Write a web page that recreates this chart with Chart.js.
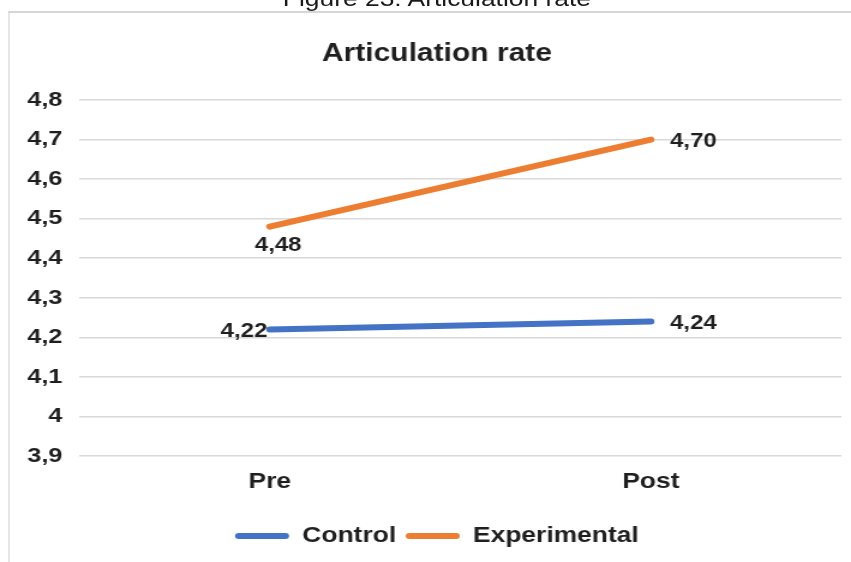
<!DOCTYPE html>
<html>
<head>
<meta charset="utf-8">
<script src="https://cdn.jsdelivr.net/npm/chart.js@4/dist/chart.umd.min.js"></script>
<style>
  html, body { margin: 0; padding: 0; background: #fff; overflow: hidden; }
  /* the original picture is stretched sideways, so the whole figure is drawn narrow and scaled */
  #wrap { position: absolute; left: 0; top: 0; width: 709px; height: 562px; transform: scaleX(1.2003); transform-origin: 0 0; }
  #caption { position: absolute; left: 0; top: -12px; width: 728px; text-align: center; font: 22px/22px "Liberation Sans", Arial, sans-serif; color: #1a1a1a; }
  #frame { position: absolute; left: 6.7px; top: 11px; width: 800px; height: 700px; border-left: 1.5px solid #d6d6d6; border-top: 2px solid #d6d6d6; }
  #mychart { position: absolute; left: 0; top: 0; }
</style>
</head>
<body>
<div id="wrap">
  <div id="caption">Figure 23: Articulation rate</div>
  <div id="frame"></div>
  <canvas id="mychart" width="709" height="562"></canvas>
</div>
<script>
'use strict'

// データ
const categories = ['Pre', 'Post'];
const controlValues = [4.22, 4.24];
const experimentalValues = [4.48, 4.70];
const yTicks = [3.9, 4.0, 4.1, 4.2, 4.3, 4.4, 4.5, 4.6, 4.7, 4.8];

const blue = '#4472C4';
const orange = '#ED7D31';
const textColor = '#1f1f1f';
const fontFamily = '"Liberation Sans", Arial, sans-serif';

// 値ラベルの位置（データセット順、点の順）
const labelPlace = [['left', 'right'], ['below', 'right']];

const comma = (v) => String(Math.round(v * 100) / 100).replace('.', ',');

// 値ラベルを描くプラグイン
const valueLabels = {
  id: 'valueLabels',
  afterLayout(chart) {
    // y軸の目盛りラベルが左で切れないように
    chart.scales.y.left = 0;
  },
  afterDatasetsDraw(chart) {
    const c = chart.ctx;
    c.save();
    c.font = 'bold 20px ' + fontFamily;
    c.fillStyle = textColor;
    c.textBaseline = 'middle';
    chart.data.datasets.forEach((ds, i) => {
      chart.getDatasetMeta(i).data.forEach((pt, j) => {
        const text = ds.data[j].toFixed(2).replace('.', ',');
        const place = labelPlace[i][j];
        if (place === 'left') {
          c.textAlign = 'right';
          c.fillText(text, pt.x - 2, pt.y + 2);
        } else if (place === 'right') {
          c.textAlign = 'left';
          c.fillText(text, pt.x + 16, pt.y + 2);
        } else {
          c.textAlign = 'center';
          c.fillText(text, pt.x + 7, pt.y + 19);
        }
      });
    });
    c.restore();
  }
};

const ctx = document.getElementById('mychart');

const myChart = new Chart(ctx, {
  type: 'line',
  data: {
    labels: categories,
    datasets: [{
      label: 'Control',
      data: controlValues,
      borderColor: blue,
      backgroundColor: blue,
      borderWidth: 6,
      borderCapStyle: 'round',
      pointRadius: 0,
    }, {
      label: 'Experimental',
      data: experimentalValues,
      borderColor: orange,
      backgroundColor: orange,
      borderWidth: 6,
      borderCapStyle: 'round',
      pointRadius: 0,
    }],
  },
  options: {
    responsive: false,
    animation: false,
    devicePixelRatio: 1,
    layout: { padding: { left: 27, right: 8, top: 24, bottom: 5 } },
    plugins: {
      title: {
        display: true,
        text: 'Articulation rate',
        color: textColor,
        font: { family: fontFamily, size: 25, weight: 'bold' },
        padding: { top: 15, bottom: 31 },
      },
      legend: {
        position: 'bottom',
        labels: {
          color: textColor,
          font: { family: fontFamily, size: 22, weight: 'bold' },
          boxWidth: 45,
          boxHeight: 6,
          padding: 8,
          useBorderRadius: true,
          borderRadius: 3,
          generateLabels(chart) {
            const items = Chart.defaults.plugins.legend.labels.generateLabels(chart);
            items.forEach((it) => { it.lineWidth = 0; });
            return items;
          },
        },
      },
      tooltip: { enabled: false },
    },
    scales: {
      x: {
        offset: true,
        grid: { display: false, drawTicks: false, offset: true },
        border: { display: false },
        ticks: {
          color: textColor,
          font: { family: fontFamily, size: 22, weight: 'bold' },
          padding: 13,
        },
        afterFit(scale) { scale.height = 61; },
      },
      y: {
        min: 3.9,
        max: 4.8,
        afterBuildTicks(scale) { scale.ticks = yTicks.map((v) => ({ value: v })); },
        grid: { color: '#d9d9d9', lineWidth: 1.5, drawTicks: false },
        border: { display: false },
        ticks: {
          color: textColor,
          font: { family: fontFamily, size: 21, weight: 'bold' },
          padding: 14,
          callback: (v) => comma(v),
        },
        afterFit(scale) { scale.width = 39; },
      },
    },
  },
  plugins: [valueLabels],
});
</script>
</body>
</html>
